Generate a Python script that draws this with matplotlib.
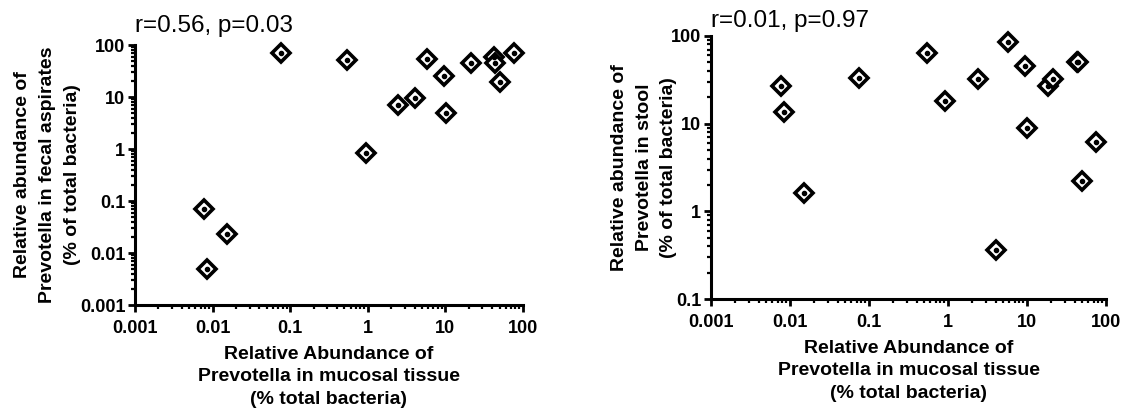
import matplotlib
matplotlib.use("Agg")
import matplotlib.pyplot as plt
from matplotlib.ticker import LogLocator, NullFormatter

plt.rcParams['font.family'] = ['Liberation Sans', 'DejaVu Sans']

# ---- data ----
left_x = [0.076, 0.54, 5.8, 9.5, 21.2, 42.7, 43.5, 50.6, 76.5, 2.47, 4.06, 10.2, 0.95, 0.0077, 0.0152, 0.0084]
left_y = [69, 51.5, 55, 25, 44.5, 59.7, 45.7, 19.4, 69, 6.9, 9.6, 5.0, 0.83, 0.069, 0.0236, 0.0049]

right_x = [0.0076, 0.0083, 0.015, 0.075, 0.535, 0.92, 2.42, 4.06, 5.7, 9.3, 9.9, 18.6, 21.2, 43.3, 44.0, 49.6, 75.3]
right_y = [27.2, 13.7, 1.63, 33.5, 64.5, 17.9, 32.6, 0.366, 84.7, 45.9, 8.95, 27.2, 32.6, 51, 50, 2.23, 6.25]

x_ticks = [0.001, 0.01, 0.1, 1, 10, 100]
x_ticklabels = ['0.001', '0.01', '0.1', '1', '10', '100']
left_yticks = [0.001, 0.01, 0.1, 1, 10, 100]
left_yticklabels = ['0.001', '0.01', '0.1', '1', '10', '100']
right_yticks = [0.1, 1, 10, 100]
right_yticklabels = ['0.1', '1', '10', '100']

left_stat = "r=0.56, p=0.03"
right_stat = "r=0.01, p=0.97"
xlabel = "Relative Abundance of\nPrevotella in mucosal tissue\n(% total bacteria)"
left_ylabel = "Relative abundance of\nPrevotella in fecal aspirates\n(% of total bacteria)"
right_ylabel = "Relative abundance of\nPrevotella in stool\n(% of total bacteria)"

W, H = 1126, 413
fig = plt.figure(figsize=(W / 100, H / 100), dpi=100)

def px_axes(l, t, r, b):
    return fig.add_axes([l / W, 1 - b / H, (r - l) / W, (b - t) / H])

axL = px_axes(135, 45, 523, 305)
axR = px_axes(711, 36, 1106, 299)

def style(ax, x, y, yticks, yticklabels, ylabel, stat, ylab_x, stat_y):
    ax.set_xscale('log')
    ax.set_yscale('log')
    ax.plot(x, y, linestyle='none', marker='D', markersize=9.3,
            markerfacecolor='white', markeredgecolor='black',
            markeredgewidth=2.6, clip_on=False, zorder=3)
    ax.plot(x, y, linestyle='none', marker='o', markersize=3.0,
            color='black', clip_on=False, zorder=4)
    ax.set_xlim(x_ticks[0], x_ticks[-1])
    ax.set_ylim(yticks[0], yticks[-1])
    ax.set_xticks(x_ticks)
    ax.set_xticklabels(x_ticklabels)
    ax.set_yticks(yticks)
    ax.set_yticklabels(yticklabels)
    ax.xaxis.set_minor_locator(LogLocator(base=10, subs=range(2, 10), numticks=20))
    ax.yaxis.set_minor_locator(LogLocator(base=10, subs=range(2, 10), numticks=20))
    ax.xaxis.set_minor_formatter(NullFormatter())
    ax.yaxis.set_minor_formatter(NullFormatter())
    for s in ['top', 'right']:
        ax.spines[s].set_visible(False)
    for s in ['left', 'bottom']:
        ax.spines[s].set_linewidth(2.2)
    ax.tick_params(which='major', direction='out', length=5, width=2.0,
                   labelsize=13)
    ax.tick_params(axis='x', which='major', pad=6)
    ax.tick_params(axis='y', which='major', pad=2)
    ax.tick_params(which='minor', direction='out', length=3, width=1.6)
    for lab in ax.get_xticklabels() + ax.get_yticklabels():
        lab.set_fontweight('bold')
    ax.set_xlabel(xlabel, fontsize=14, fontweight='bold', linespacing=1.42, labelpad=6)
    ax.set_ylabel(ylabel, fontsize=14, fontweight='bold', linespacing=1.6)
    ax.yaxis.set_label_coords(ylab_x, 0.5)
    ax.text(0.0, stat_y, stat, transform=ax.transAxes, fontsize=17.5,
            ha='left', va='baseline')

style(axL, left_x, left_y, left_yticks, left_yticklabels, left_ylabel, left_stat, -0.14, 1.05)
style(axR, right_x, right_y, right_yticks, right_yticklabels, right_ylabel, right_stat, -0.085, 1.035)

fig.savefig("out.png", dpi=100)
